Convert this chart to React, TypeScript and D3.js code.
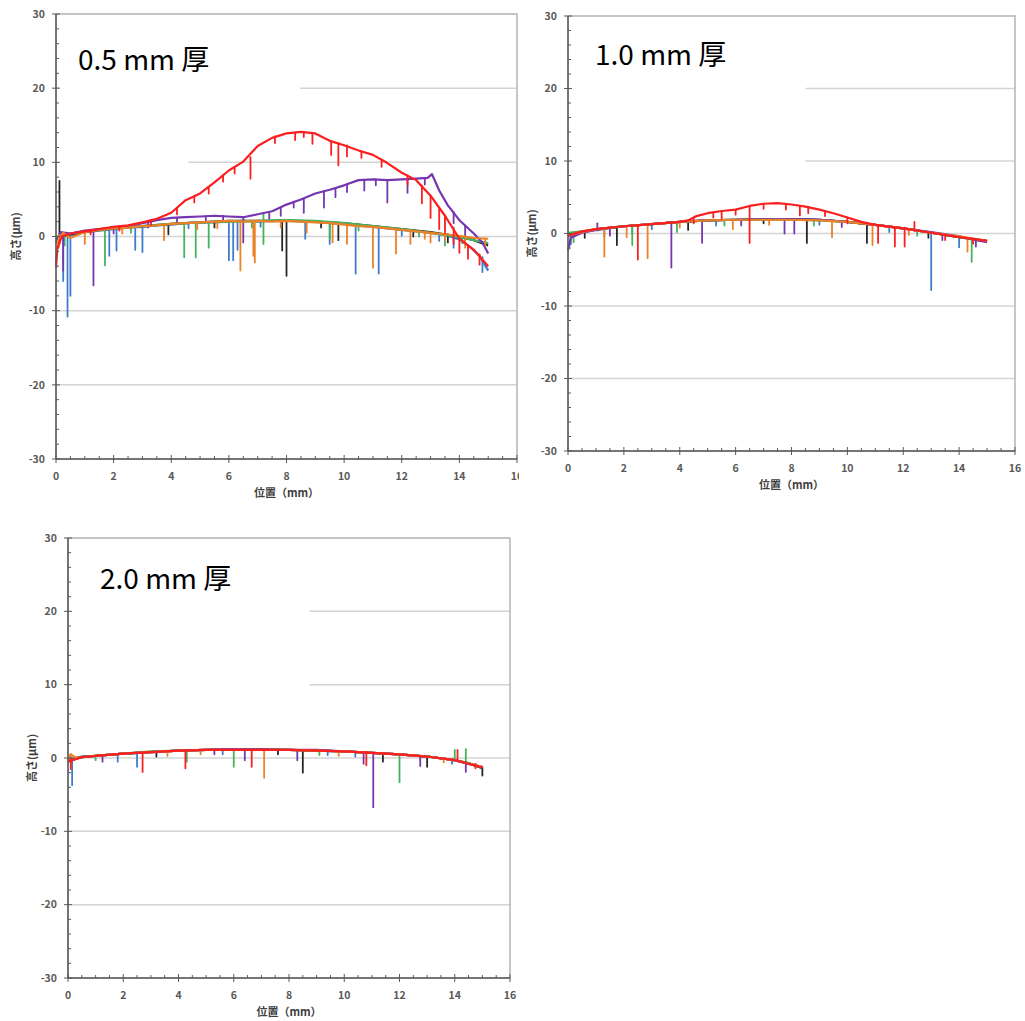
import { useEffect, useRef } from 'react';
import * as d3 from 'd3';

// trace colours, drawn in this order (last on top)
const seriesNames = ['blue', 'black', 'green', 'purple', 'orange', 'red'];
const seriesColors = ['#3f7dcc', '#262626', '#45b25c', '#7536b0', '#ec8126', '#fb1f1f'];

const yTicks = [-30, -20, -10, 0, 10, 20, 30];
const xTicks = [0, 2, 4, 6, 8, 10, 12, 14, 16];

// ---------- 0.5 mm ----------  profile [mm, µm]; dips [mm, from, to]
const t05Blue = [[0,-0.6],[0.2,0.3],[0.6,0.2],[1,0.6],[1.5,0.8],[2,1.0],[2.5,1.2],[3,1.3],[3.5,1.5],[4,1.6],[4.5,1.8],[5,1.9],[5.5,1.9],[6,2.0],[6.5,2.1],[7,2.0],[7.5,2.1],[8,2.2],[8.5,2.1],[9,2.0],[9.5,1.8],[10,1.7],[10.5,1.5],[11,1.3],[11.5,1.1],[12,0.9],[12.5,0.7],[13,0.5],[13.5,0.2],[14,-0.4],[14.4,-1.5],[14.7,-2.6],[15,-4.6]];
const d05Blue = [[0.25,0.1,-6.0],[0.4,0.1,-10.8],[0.5,0.2,-8.0],[1.85,0.9,-2.6],[2.1,1.0,-1.9],[2.75,1.2,-1.8],[3.0,1.3,-2.1],[4.6,1.8,1.1],[6.0,2.0,-3.2],[6.15,2.0,-3.2],[6.3,2.0,-1.8],[7.1,2.0,1.3],[8.65,2.1,-0.3],[9.5,1.8,-1.0],[10.4,1.6,-5.0],[11.2,1.3,-5.0],[12.0,0.9,0.1],[13.3,0.3,-0.6],[13.8,0.0,-1.5],[14.8,-2.8,-4.8]];
const t05Black = [[0,-0.3],[0.5,0.3],[1,0.6],[1.5,0.9],[2,1.1],[3,1.4],[4,1.7],[5,1.9],[6,2.1],[7,2.1],[8,2.1],[9,2.0],[10,1.8],[11,1.4],[12,1.0],[13,0.6],[13.5,0.3],[14,0.0],[14.5,-0.5],[15,-1.2]];
const d05Black = [[0.12,7.5,-1.0],[3.9,1.6,0.3],[5.5,2.0,1.2],[7.85,2.1,-1.9],[8.0,2.1,-5.3],[9.2,2.0,1.2],[9.8,1.8,-0.5],[12.4,0.8,0.0],[13.6,0.3,-0.8]];
const t05Green = [[0,0.0],[0.5,0.4],[1,0.7],[1.5,0.9],[2,1.1],[3,1.4],[4,1.7],[5,1.9],[6,2.0],[7,2.1],[8,2.2],[9,2.1],[10,1.8],[11,1.4],[12,1.0],[13,0.5],[13.5,0.2],[14,-0.1],[14.5,-0.5],[15,-0.9]];
const d05Green = [[0.3,0.3,-1.2],[1.7,0.9,-3.9],[2.6,1.2,0.5],[4.45,1.7,-2.8],[4.85,1.8,-2.8],[5.3,1.9,-1.5],[6.8,2.1,1.2],[7.2,3.1,-1.0],[9.5,1.9,-0.3],[10.5,1.6,0.8],[12.6,0.7,0.0],[13.5,0.2,-1.2],[14.1,-0.1,-0.9]];
const t05Purple = [[0,-1.0],[0.15,0.6],[0.5,0.4],[1,0.8],[1.5,1.0],[2,1.2],[2.5,1.4],[3,1.8],[3.5,2.2],[4,2.5],[4.5,2.6],[5,2.7],[5.5,2.8],[6,2.7],[6.5,2.6],[7,3.0],[7.5,3.4],[8,4.3],[8.5,5.0],[9,5.8],[9.5,6.3],[10,6.9],[10.5,7.6],[11,7.7],[11.5,7.6],[12,7.7],[12.5,7.8],[12.9,7.9],[13.05,8.4],[13.3,6.2],[13.6,4.2],[14,2.2],[14.5,0.4],[14.8,-0.8],[15,-2.3]];
const d05Purple = [[0.25,0.4,-4.6],[1.3,0.9,-6.6],[2.0,1.2,0.4],[3.2,2.0,1.2],[4.2,2.5,1.8],[5.2,2.7,2.0],[5.8,2.8,2.1],[6.5,2.6,-0.8],[7.4,3.3,2.4],[7.8,3.9,2.8],[8.25,4.7,3.9],[8.6,5.1,3.2],[9.3,6.1,3.9],[9.7,6.5,5.3],[10.1,7.0,6.0],[10.7,7.6,6.2],[11.1,7.7,6.9],[11.5,7.6,4.6],[12.2,7.7,5.9],[12.8,7.9,7.0],[13.8,3.3,1.8],[14.2,1.5,-0.5]];
const t05Orange = [[0,-1.0],[0.25,0.5],[0.5,-0.2],[1,0.6],[1.5,0.9],[2,1.1],[2.5,1.2],[3,1.4],[3.5,1.5],[4,1.7],[4.5,1.8],[5,1.9],[5.5,2.0],[6,2.1],[6.5,2.0],[7,2.1],[7.5,2.0],[8,2.1],[8.5,2.0],[9,1.9],[9.5,1.8],[10,1.6],[10.5,1.4],[11,1.3],[11.5,1.1],[12,0.9],[12.5,0.7],[13,0.5],[13.5,0.3],[14,0.1],[14.5,-0.2],[15,-0.3]];
const d05Orange = [[0.1,0.2,-1.5],[1.0,0.6,-1.0],[2.3,1.2,0.4],[3.75,1.6,-0.5],[4.9,1.9,1.0],[5.6,2.0,1.1],[6.4,2.0,-4.6],[6.85,2.1,-2.6],[6.9,2.1,-3.5],[7.8,2.1,1.2],[8.7,2.0,0.5],[9.6,1.8,-0.8],[10.1,1.6,-1.0],[11.0,1.3,-4.2],[11.8,1.0,-2.3],[12.3,0.8,-1.0],[12.8,0.6,-0.3],[13.0,0.5,-0.8],[13.5,0.3,-0.5],[14.2,0.0,-1.5],[14.9,-0.3,-1.2]];
const t05Red = [[0,-4.2],[0.05,-1.5],[0.2,0.0],[0.5,0.4],[1,0.7],[1.5,1.0],[2,1.3],[2.5,1.5],[3,1.9],[3.5,2.4],[4,3.2],[4.5,4.9],[5,5.8],[5.5,7.3],[6,8.9],[6.5,10.1],[7,12.2],[7.5,13.3],[8,13.9],[8.5,14.1],[9,13.9],[9.5,12.9],[10,12.3],[10.5,11.6],[11,11.0],[11.5,9.9],[12,8.6],[12.5,7.6],[13,5.5],[13.5,2.8],[14,-0.3],[14.5,-1.8],[15,-4.0]];
const d05Red = [[1.2,0.8,0.3],[2.2,1.4,0.8],[3.3,2.2,1.6],[4.2,3.8,3.0],[4.8,5.5,4.6],[5.3,6.7,5.8],[5.8,8.3,7.4],[6.2,9.3,8.5],[6.75,10.7,7.8],[7.6,13.5,12.6],[8.3,14.0,13.0],[8.6,14.1,13.4],[8.9,13.9,12.5],[9.55,12.8,11.0],[9.8,12.6,9.6],[10.1,12.3,10.8],[10.6,11.5,10.6],[11.3,10.4,9.4],[12.2,8.2,7.0],[12.7,6.9,4.5],[13.0,5.5,2.5],[13.3,3.8,1.0],[13.5,2.8,0.5],[13.8,1.2,-1.0],[14.0,-0.3,-2.2],[14.3,-1.2,-3.0],[14.7,-2.4,-3.8]];

// ---------- 1.0 mm ----------
const t10Blue = [[0,-0.4],[0.5,0.2],[1,0.5],[1.5,0.8],[2,1.0],[3,1.3],[4,1.6],[5,1.8],[6,1.9],[7,2.0],[8,2.0],[9,1.9],[10,1.6],[11,1.2],[12,0.7],[13,0.1],[14,-0.5],[14.5,-0.8],[15,-1.1]];
const d10Blue = [[0.1,-0.3,-1.5],[1.3,0.7,-0.5],[2.3,1.1,0.0],[3.0,1.3,0.6],[5.3,1.8,1.1],[9.0,1.9,1.2],[11.5,0.9,0.2],[13.0,0.1,-7.8],[14.0,-0.5,-1.9]];
const t10Black = [[0,-0.2],[1,0.6],[2,1.0],[3,1.3],[4,1.6],[5,1.8],[6,1.9],[7,2.0],[8,2.0],[9,1.9],[10,1.6],[11,1.2],[12,0.7],[13,0.1],[14,-0.5],[15,-1.0]];
const d10Black = [[0.6,0.3,-0.6],[1.75,0.9,-1.6],[4.3,1.6,0.5],[7.0,2.0,1.4],[8.55,1.9,-1.3],[10.7,1.3,-1.3],[12.9,0.1,-0.6]];
const t10Green = [[0,0.1],[0.5,0.3],[1,0.5],[2,1.0],[3,1.3],[4,1.6],[5,1.8],[6,1.9],[7,1.9],[8,1.9],[9,1.8],[10,1.6],[11,1.2],[12,0.7],[13,0.1],[14,-0.5],[15,-1.1]];
const d10Green = [[0.2,0.1,-1.2],[2.3,1.1,-1.6],[3.9,1.6,0.2],[5.6,1.9,1.1],[8.8,1.8,1.1],[12.5,0.4,-0.3],[14.45,-0.7,-3.9]];
const t10Purple = [[0,-2.3],[0.1,-0.6],[0.5,0.1],[1,0.5],[2,1.0],[3,1.3],[4,1.6],[5,1.8],[6,1.9],[7,2.0],[8,2.0],[9,1.9],[10,1.6],[11,1.2],[12,0.7],[13,0.2],[14,-0.4],[14.5,-0.8],[15,-1.2]];
const d10Purple = [[1.05,1.4,0.4],[1.5,0.8,-0.3],[3.7,1.5,-4.7],[4.8,1.8,-1.3],[6.2,1.9,1.1],[7.75,2.0,0.0],[8.1,2.0,0.0],[9.8,1.6,0.9],[13.4,-0.1,-0.9],[14.6,-0.7,-1.8]];
const t10Orange = [[0,-0.3],[0.5,0.2],[1,0.6],[2,1.0],[3,1.3],[4,1.6],[5,1.8],[6,1.9],[7,1.9],[8,1.9],[9,1.8],[10,1.6],[11,1.2],[12,0.7],[13,0.1],[14,-0.4],[15,-1.0]];
const d10Orange = [[1.3,0.6,-3.2],[2.1,1.0,-0.5],[2.85,1.3,-3.4],[4.0,1.6,0.8],[5.9,1.9,0.6],[7.2,1.9,1.2],[9.45,1.7,-0.5],[10.9,1.3,-1.6],[12.2,0.6,-0.2],[14.3,-0.6,-2.5]];
const t10Red = [[0,-0.3],[0.5,0.3],[1,0.6],[2,1.0],[3,1.3],[4,1.6],[4.3,1.8],[4.6,2.4],[5,2.8],[5.5,3.1],[6,3.3],[6.5,3.8],[7,4.1],[7.5,4.2],[8,4.0],[8.5,3.7],[9,3.3],[9.5,2.8],[10,2.2],[10.5,1.6],[11,1.2],[12,0.7],[13,0.1],[14,-0.5],[15,-1.0]];
const d10Red = [[2.5,1.2,-3.6],[4.5,2.2,1.4],[5.2,2.9,2.2],[5.5,3.1,2.0],[6.0,3.3,2.6],[6.5,3.8,-1.3],[7.0,4.1,3.4],[7.8,4.1,3.3],[8.3,3.8,2.5],[8.6,3.7,2.8],[9.2,3.1,2.4],[10.0,2.2,1.4],[11.1,1.2,-1.3],[11.7,0.9,-1.8],[12.05,0.8,-1.8],[12.4,1.6,0.4],[13.5,-0.2,-0.9],[14.5,-0.7,-1.4]];

// ---------- 2.0 mm ----------
const t20Blue = [[0,-0.5],[0.2,0.0],[0.5,0.1],[1,0.3],[2,0.6],[3,0.8],[4,1.0],[5,1.1],[6,1.1],[7,1.1],[8,1.1],[9,1.0],[10,0.9],[11,0.7],[12,0.5],[13,0.2],[14,-0.3],[15,-1.3]];
const d20Blue = [[0.15,-0.2,-3.7],[1.8,0.6,-0.5],[2.5,0.7,-1.2],[5.6,1.1,0.5],[9.4,1.0,0.4],[10.4,0.8,0.2],[13.9,-0.2,-0.8]];
const t20Black = [[0,-0.3],[0.5,0.2],[1,0.3],[2,0.6],[3,0.8],[4,1.0],[5,1.1],[6,1.2],[7,1.1],[8,1.1],[9,1.0],[10,0.9],[11,0.7],[12,0.5],[13,0.2],[14,-0.3],[14.5,-0.7],[15,-1.4]];
const d20Black = [[3.2,0.8,0.2],[7.6,1.1,0.5],[8.5,1.1,-2.0],[11.4,0.6,-0.5],[13.0,0.2,-1.2],[15.0,-1.3,-2.4]];
const t20Green = [[0,-0.2],[0.5,0.1],[1,0.3],[2,0.6],[3,0.9],[4,1.0],[5,1.1],[6,1.1],[7,1.2],[8,1.1],[9,1.0],[10,0.9],[11,0.7],[12,0.5],[13,0.2],[14,-0.3],[15,-1.3]];
const d20Green = [[1.0,0.3,-0.3],[4.3,1.0,-0.5],[6.0,1.1,-1.2],[9.1,1.0,0.4],[12.0,0.5,-3.3],[14.0,-0.3,1.1],[14.4,-0.6,1.2]];
const t20Purple = [[0,-0.4],[0.5,0.1],[1,0.3],[2,0.6],[3,0.8],[4,1.0],[5,1.1],[6,1.2],[7,1.2],[8,1.1],[9,1.1],[10,0.9],[11,0.7],[12,0.5],[13,0.2],[14,-0.3],[15,-1.2]];
const d20Purple = [[1.25,0.4,-0.5],[5.3,1.1,0.5],[6.4,1.1,-0.3],[8.3,1.1,-0.3],[10.7,0.8,-0.8],[11.05,0.7,-6.7],[12.75,0.3,-1.1],[14.4,-0.6,-1.9]];
const t20Orange = [[0,-0.3],[0.1,0.5],[0.3,0.0],[0.5,0.1],[1,0.3],[2,0.6],[3,0.8],[4,1.0],[5,1.1],[6,1.1],[7,1.1],[8,1.1],[9,1.0],[10,0.9],[11,0.7],[12,0.5],[13,0.2],[14,-0.3],[15,-1.2]];
const d20Orange = [[0.1,0.5,-0.6],[3.6,0.9,0.3],[4.8,1.1,0.5],[7.1,1.1,-2.7],[9.8,0.9,0.3],[13.6,0.0,-0.6]];
const t20Red = [[0,-0.5],[0.5,0.1],[1,0.3],[2,0.6],[3,0.8],[4,1.0],[5,1.1],[6,1.1],[7,1.1],[8,1.1],[9,1.0],[10,0.9],[11,0.7],[12,0.5],[13,0.2],[14,-0.3],[15,-1.3]];
const d20Red = [[0.1,0.0,-1.5],[2.7,0.7,-1.9],[4.25,1.0,-1.4],[6.65,1.1,-1.2],[10.8,0.8,-1.0],[14.1,-0.2,1.1],[14.75,-0.8,-1.4]];

const panels = [
  {
    title: '0.5 mm 厚',
    box: [0, 0, 519, 505],
    plot: [56, 14, 517, 459],
    titlePos: [78, 70],
    yLabelX: 16,
    mask: [[0.1, 8.47, 29.5, 19.5], [0.1, 4.6, 19.5, 9.5]],
    traces: [t05Blue, t05Black, t05Green, t05Purple, t05Orange, t05Red],
    dips: [d05Blue, d05Black, d05Green, d05Purple, d05Orange, d05Red],
  },
  {
    title: '1.0 mm 厚',
    box: [519, 0, 506, 505],
    plot: [568, 16, 1015, 451],
    titlePos: [595, 65],
    yLabelX: 532,
    mask: [[0.1, 8.5, 29.5, 9.5]],
    traces: [t10Blue, t10Black, t10Green, t10Purple, t10Orange, t10Red],
    dips: [d10Blue, d10Black, d10Green, d10Purple, d10Orange, d10Red],
  },
  {
    title: '2.0 mm 厚',
    box: [0, 505, 530, 516],
    plot: [68, 538, 510, 978],
    titlePos: [100, 589],
    yLabelX: 32,
    mask: [[0.1, 8.75, 29.5, 9.5]],
    traces: [t20Blue, t20Black, t20Green, t20Purple, t20Orange, t20Red],
    dips: [d20Blue, d20Black, d20Green, d20Purple, d20Orange, d20Red],
  },
];

const FONT = "'Noto Sans CJK JP', 'Noto Sans', sans-serif";

function ProfileCharts() {
  const svgRef = useRef(null);

  useEffect(() => {
    const svg = d3.select(svgRef.current);
    svg.selectAll('*').remove();

    panels.forEach((p) => {
      const [l, t, r, b] = p.plot;
      const g = svg.append('g');

      // chart area background
      g.append('rect')
        .attr('x', p.box[0]).attr('y', p.box[1])
        .attr('width', p.box[2]).attr('height', p.box[3])
        .attr('fill', '#fff');

      const x = d3.scaleLinear().domain([0, 16]).range([l, r]);
      const y = d3.scaleLinear().domain([-30, 30]).range([b, t]);

      // gridlines
      g.selectAll('line.grid')
        .data(yTicks.filter((v) => v > -30 && v < 30))
        .enter()
        .append('line')
        .attr('x1', l).attr('x2', r)
        .attr('y1', (d) => y(d)).attr('y2', (d) => y(d))
        .attr('stroke', '#d4d4d4')
        .attr('stroke-width', 1.5);

      // white label box hiding part of the gridlines
      p.mask.forEach((m) => {
        g.append('rect')
          .attr('x', x(m[0])).attr('y', y(m[2]))
          .attr('width', x(m[1]) - x(m[0]))
          .attr('height', y(m[3]) - y(m[2]))
          .attr('fill', '#fff');
      });

      // plot border
      g.append('rect')
        .attr('x', l).attr('y', t)
        .attr('width', r - l).attr('height', b - t)
        .attr('fill', 'none')
        .attr('stroke', '#b4b4b4')
        .attr('stroke-width', 1.5);

      // traces
      const line = d3.line().x((d) => x(d[0])).y((d) => y(d[1]));
      p.traces.forEach((tr, i) => {
        g.append('path')
          .attr('d', line(tr))
          .attr('fill', 'none')
          .attr('stroke', seriesColors[i])
          .attr('stroke-width', 2.2)
          .attr('stroke-linejoin', 'round')
          .attr('class', seriesNames[i]);
        g.selectAll(`line.dip-${i}`)
          .data(p.dips[i])
          .enter()
          .append('line')
          .attr('x1', (d) => x(d[0])).attr('x2', (d) => x(d[0]))
          .attr('y1', (d) => y(d[1])).attr('y2', (d) => y(d[2]))
          .attr('stroke', seriesColors[i])
          .attr('stroke-width', 1.8)
          .attr('stroke-linecap', 'round');
      });

      // axes
      const axisColor = '#5a5a5a';
      g.append('line').attr('x1', l).attr('x2', l).attr('y1', t).attr('y2', b)
        .attr('stroke', axisColor).attr('stroke-width', 1.5);
      g.append('line').attr('x1', l).attr('x2', r).attr('y1', b).attr('y2', b)
        .attr('stroke', axisColor).attr('stroke-width', 1.5);

      const yMinor = d3.range(-30, 31, 2).filter((v) => v % 10 !== 0);
      g.selectAll('line.ymin').data(yMinor).enter().append('line')
        .attr('x1', l).attr('x2', l + 3)
        .attr('y1', (d) => y(d)).attr('y2', (d) => y(d))
        .attr('stroke', axisColor).attr('stroke-width', 1);
      g.selectAll('line.ymaj').data(yTicks).enter().append('line')
        .attr('x1', l - 4).attr('x2', l + 4)
        .attr('y1', (d) => y(d)).attr('y2', (d) => y(d))
        .attr('stroke', axisColor).attr('stroke-width', 1);

      const xMinor = d3.range(0, 32, 1).map((v) => v / 2).filter((v) => v % 2 !== 0);
      g.selectAll('line.xmin').data(xMinor).enter().append('line')
        .attr('x1', (d) => x(d)).attr('x2', (d) => x(d))
        .attr('y1', b - 3).attr('y2', b)
        .attr('stroke', axisColor).attr('stroke-width', 1);
      g.selectAll('line.xmaj').data(xTicks).enter().append('line')
        .attr('x1', (d) => x(d)).attr('x2', (d) => x(d))
        .attr('y1', b - 4).attr('y2', b + 4)
        .attr('stroke', axisColor).attr('stroke-width', 1);

      // tick labels
      g.selectAll('text.ytl').data(yTicks).enter().append('text')
        .attr('x', l - 11).attr('y', (d) => y(d))
        .attr('dy', '0.35em')
        .attr('text-anchor', 'end')
        .style('font-family', FONT)
        .style('font-size', '10.5px')
        .style('font-weight', 'bold')
        .style('fill', '#595959')
        .text((d) => d);
      g.selectAll('text.xtl').data(xTicks).enter().append('text')
        .attr('x', (d) => x(d)).attr('y', b + 21)
        .attr('text-anchor', 'middle')
        .style('font-family', FONT)
        .style('font-size', '10.5px')
        .style('font-weight', 'bold')
        .style('fill', '#595959')
        .text((d) => d);

      // axis titles
      g.append('text')
        .attr('transform', `translate(${p.yLabelX},${y(0)}) rotate(-90)`)
        .attr('text-anchor', 'middle')
        .attr('dy', '0.35em')
        .style('font-family', FONT)
        .style('font-size', '11px')
        .style('font-weight', 'bold')
        .style('fill', '#404040')
        .text('高さ(μm)');
      g.append('text')
        .attr('x', (l + r) / 2).attr('y', b + 38)
        .attr('text-anchor', 'middle')
        .style('font-family', FONT)
        .style('font-size', '11px')
        .style('font-weight', 'bold')
        .style('fill', '#404040')
        .text('位置（mm）');

      // panel title
      g.append('text')
        .attr('x', p.titlePos[0]).attr('y', p.titlePos[1])
        .style('font-family', FONT)
        .style('font-size', '28px')
        .style('fill', '#000')
        .text(p.title);
    });
  }, []);

  return <svg ref={svgRef} width={1025} height={1021} style={{ display: 'block' }}></svg>;
}

export default function App() {
  return (
    <div style={{ position: 'absolute', left: 0, top: 0, background: '#fff' }}>
      <ProfileCharts />
    </div>
  );
}
